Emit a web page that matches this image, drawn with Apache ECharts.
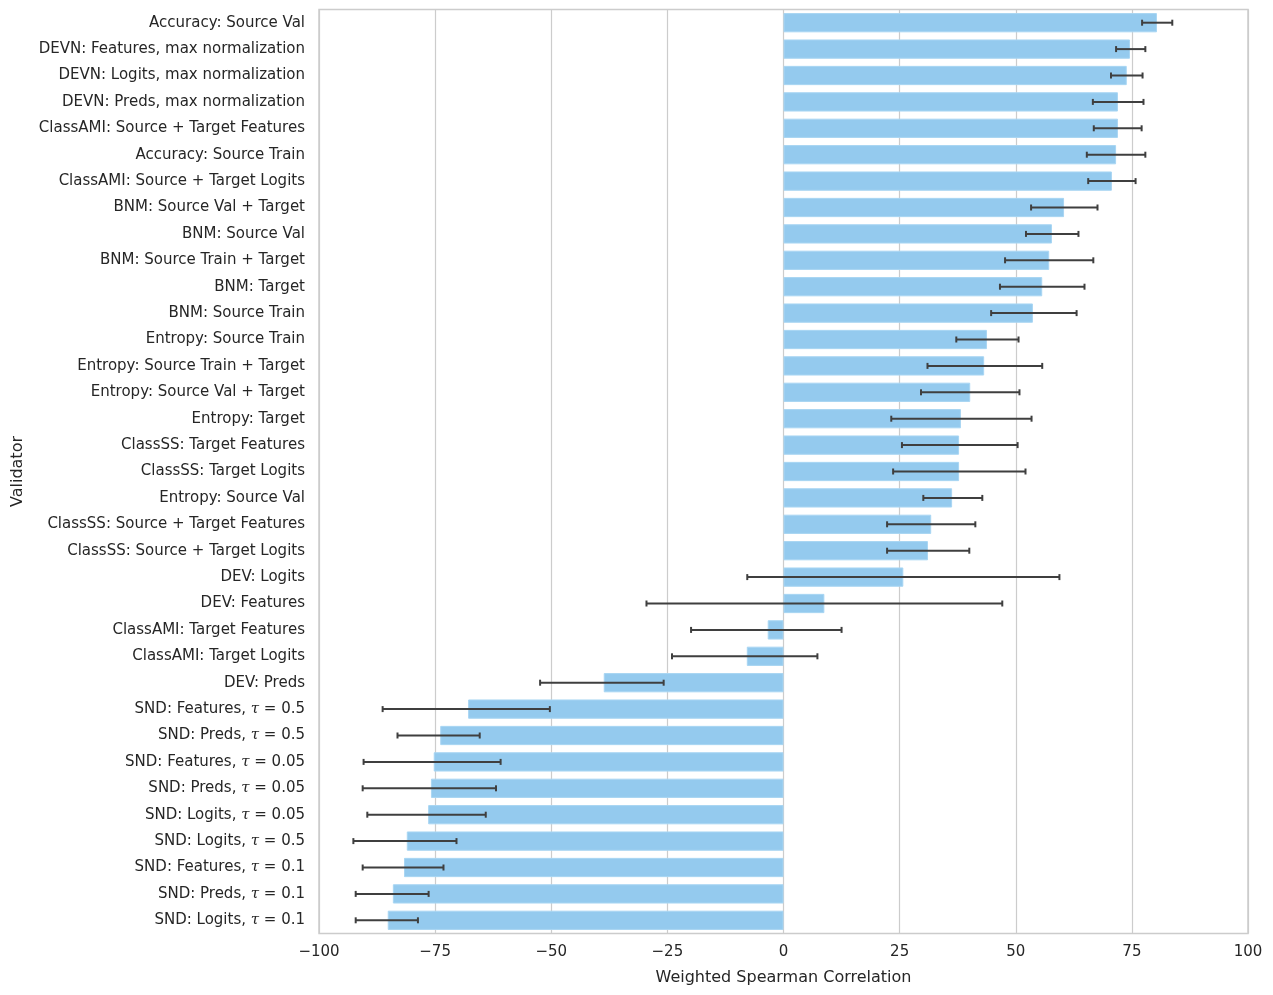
<!DOCTYPE html>
<html>
<head>
<meta charset="utf-8">
<script src="https://cdn.jsdelivr.net/npm/echarts@6/dist/echarts.min.js"></script>
<style>
  html, body { margin: 0; padding: 0; background: #fff; }
  #container { width: 1273px; height: 995px; }
</style>
</head>
<body>
<div id="container"></div>
<script>
const validators = [
    'Accuracy: Source Val',
    'DEVN: Features, max normalization',
    'DEVN: Logits, max normalization',
    'DEVN: Preds, max normalization',
    'ClassAMI: Source + Target Features',
    'Accuracy: Source Train',
    'ClassAMI: Source + Target Logits',
    'BNM: Source Val + Target',
    'BNM: Source Val',
    'BNM: Source Train + Target',
    'BNM: Target',
    'BNM: Source Train',
    'Entropy: Source Train',
    'Entropy: Source Train + Target',
    'Entropy: Source Val + Target',
    'Entropy: Target',
    'ClassSS: Target Features',
    'ClassSS: Target Logits',
    'Entropy: Source Val',
    'ClassSS: Source + Target Features',
    'ClassSS: Source + Target Logits',
    'DEV: Logits',
    'DEV: Features',
    'ClassAMI: Target Features',
    'ClassAMI: Target Logits',
    'DEV: Preds',
    'SND: Features, τ = 0.5',
    'SND: Preds, τ = 0.5',
    'SND: Features, τ = 0.05',
    'SND: Preds, τ = 0.05',
    'SND: Logits, τ = 0.05',
    'SND: Logits, τ = 0.5',
    'SND: Features, τ = 0.1',
    'SND: Preds, τ = 0.1',
    'SND: Logits, τ = 0.1'
];

// mean weighted spearman correlation
const means = [
    80.4, 74.6, 73.9, 72.0, 72.0, 71.6, 70.7, 60.4, 57.8, 57.2, 55.7, 53.7,
    43.8, 43.2, 40.2, 38.2, 37.8, 37.8, 36.3, 31.8, 31.1, 25.8, 8.8, -3.4,
    -7.9, -38.7, -67.9, -73.9, -75.3, -75.9, -76.5, -81.1, -81.7, -84.1, -85.2
];

// error bar bounds
const errLow = [
    77.2, 71.6, 70.5, 66.6, 66.8, 65.3, 65.6, 53.3, 52.2, 47.7, 46.6, 44.7,
    37.2, 31.0, 29.6, 23.2, 25.5, 23.6, 30.1, 22.3, 22.3, -7.8, -29.5, -19.9,
    -24.0, -52.4, -86.3, -83.1, -90.4, -90.6, -89.6, -92.6, -90.6, -92.1, -92.1
];
const errHigh = [
    83.7, 77.9, 77.3, 77.5, 77.1, 77.9, 75.8, 67.6, 63.5, 66.7, 64.8, 63.1,
    50.6, 55.7, 50.8, 53.4, 50.4, 52.1, 42.8, 41.3, 40.0, 59.4, 47.1, 12.5,
    7.3, -25.8, -50.3, -65.4, -60.9, -61.9, -64.1, -70.4, -73.2, -76.4, -78.7
];

const xTicks = [-100, -75, -50, -25, 0, 25, 50, 75, 100];

const textColor = '#262626';
const errData = validators.map((v, i) => [i, errLow[i], errHigh[i]]);

const myChart = echarts.init(document.getElementById('container'));
const option = {
    animation: false,
    textStyle: { fontFamily: 'DejaVu Sans' },
    grid: {
        left: 319,
        right: 25,
        top: 9.5,
        bottom: 61.5,
        outerBoundsMode: 'none',
        containLabel: false,
        show: true,
        borderColor: '#cccccc',
        borderWidth: 1.5,
        backgroundColor: 'transparent'
    },
    xAxis: {
        type: 'value',
        min: xTicks[0],
        max: xTicks[xTicks.length - 1],
        interval: 25,
        name: 'Weighted Spearman Correlation',
        nameLocation: 'middle',
        nameGap: 36,
        nameTextStyle: { fontSize: 16, color: textColor },
        axisLine: { show: false },
        axisTick: { show: false },
        axisLabel: {
            fontSize: 15,
            color: textColor,
            margin: 11,
            formatter: v => String(v).replace('-', '\u2212')
        },
        splitLine: { show: true, lineStyle: { color: '#cccccc', width: 1.2 } }
    },
    yAxis: {
        type: 'category',
        data: validators,
        inverse: true,
        name: 'Validator',
        nameLocation: 'middle',
        nameRotate: 90,
        nameGap: 293,
        nameTextStyle: { fontSize: 16, color: textColor },
        axisLine: { show: false },
        axisTick: { show: false },
        splitLine: { show: false },
        axisLabel: {
            fontSize: 15,
            color: textColor,
            margin: 14,
            formatter: s => s.replace('τ', '{i|τ}'),
            rich: {
                i: { fontSize: 15, fontStyle: 'italic', color: textColor, fontFamily: 'DejaVu Serif' }
            }
        }
    },
    series: [
        {
            name: 'mean',
            type: 'bar',
            data: means,
            barWidth: '73%',
            itemStyle: {
                color: '#94caee',
                borderColor: '#a9d6f3',
                borderWidth: 1
            },
            z: 2
        },
        {
            name: 'error',
            type: 'custom',
            data: errData,
            encode: { x: [1, 2], y: 0 },
            z: 3,
            renderItem: (params, api) => {
                const idx = api.value(0);
                const lo = api.coord([api.value(1), idx]);
                const hi = api.coord([api.value(2), idx]);
                const cap = 3;
                const style = { stroke: '#3f3f3f', lineWidth: 2 };
                return {
                    type: 'group',
                    children: [
                        { type: 'line', shape: { x1: lo[0], y1: lo[1], x2: hi[0], y2: hi[1] }, style },
                        { type: 'line', shape: { x1: lo[0], y1: lo[1] - cap, x2: lo[0], y2: lo[1] + cap }, style },
                        { type: 'line', shape: { x1: hi[0], y1: hi[1] - cap, x2: hi[0], y2: hi[1] + cap }, style }
                    ]
                };
            }
        }
    ]
};
myChart.setOption(option);
window.addEventListener('resize', () => {
    myChart.resize()
})
</script>
</body>
</html>
